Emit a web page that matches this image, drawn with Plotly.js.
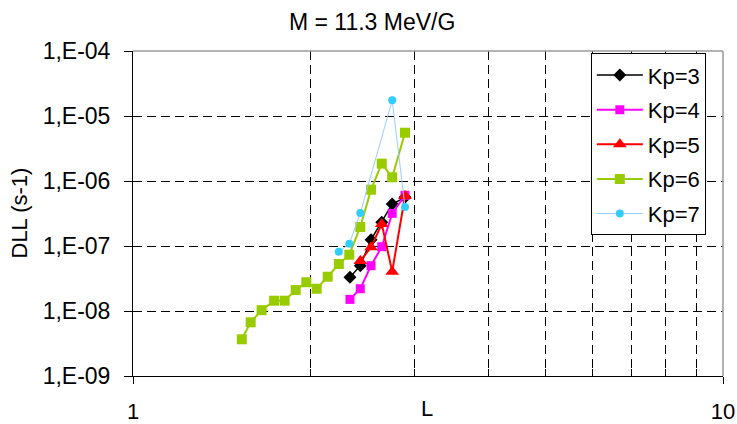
<!DOCTYPE html>
<html><head><meta charset="utf-8">
<script src="https://cdn.plot.ly/plotly-3.0.1.min.js"></script>
<style>html,body{margin:0;padding:0;background:#fff}#chart{width:737px;height:424px}</style>
</head><body><div id="chart"></div>
<script>
// Data (L shell vs DLL in s^-1)
const L_kp3 = [2.332, 2.428, 2.532, 2.640, 2.750, 2.891];
const D_kp3 = [3.30e-8, 4.98e-8, 1.25e-7, 2.32e-7, 4.43e-7, 5.61e-7];

const L_kp4 = [2.332, 2.428, 2.532, 2.640, 2.750, 2.891];
const D_kp4 = [1.51e-8, 2.20e-8, 4.98e-8, 9.75e-8, 3.18e-7, 6.03e-7];

const L_kp5 = [2.428, 2.532, 2.640, 2.750, 2.891];
const D_kp5 = [5.88e-8, 9.55e-8, 2.18e-7, 4.03e-8, 5.88e-7];

const L_kp6 = [1.529, 1.583, 1.652, 1.734, 1.807, 1.887, 1.967, 2.048, 2.138, 2.233, 2.326, 2.428, 2.532, 2.640, 2.750, 2.891];
const D_kp6 = [3.67e-9, 6.70e-9, 1.03e-8, 1.44e-8, 1.44e-8, 2.10e-8, 2.77e-8, 2.20e-8, 3.37e-8, 5.29e-8, 7.34e-8, 1.96e-7, 7.35e-7, 1.85e-6, 1.14e-6, 5.53e-6];

const L_kp7 = [2.233, 2.326, 2.428, 2.750, 2.891];
const D_kp7 = [8.17e-8, 1.08e-7, 3.22e-7, 1.74e-5, 3.98e-7];

const seriesNames = ['Kp=3', 'Kp=4', 'Kp=5', 'Kp=6', 'Kp=7'];
const yTickVals = [1e-9, 1e-8, 1e-7, 1e-6, 1e-5, 1e-4];
const yTickText = ['1,E-09', '1,E-08', '1,E-07', '1,E-06', '1,E-05', '1,E-04'];
const xTickVals = [1, 10];
const xTickText = ['1', '10'];
const xMinorVals = [2, 3, 4, 5, 6, 7, 8, 9];

const FONT = 'Liberation Sans, Arial, sans-serif';

function mk(x, y, name, lineColor, lineWidth, symbol, size, markerColor) {
  return {
    x: x, y: y, name: name, type: 'scatter', mode: 'lines+markers',
    legendgroup: name,
    line: {color: lineColor, width: lineWidth},
    marker: {symbol: symbol, size: size, color: markerColor || lineColor, line: {width: 0}}
  };
}

const traces = [
  mk(L_kp3, D_kp3, seriesNames[0], '#000000', 1.5, 'diamond', 10),
  mk(L_kp4, D_kp4, seriesNames[1], '#FF00FF', 2, 'square', 9),
  mk(L_kp5, D_kp5, seriesNames[2], '#FF0000', 2, 'triangle-up', 12),
  mk(L_kp6, D_kp6, seriesNames[3], '#99CC00', 2, 'square', 10),
  mk(L_kp7, D_kp7, seriesNames[4], '#99CCFF', 1, 'circle', 8, '#33CCFF')
];

const layout = {
  width: 737, height: 424,
  margin: {l: 133, r: 14, t: 51, b: 48, pad: 0},
  paper_bgcolor: '#ffffff', plot_bgcolor: '#ffffff',
  font: {family: FONT, size: 22, color: '#000'},
  title: {text: 'M = 11.3 MeV/G', font: {family: FONT, size: 23, color: '#000'},
          x: 0.505, xref: 'container', xanchor: 'center', y: 0.948, yref: 'container', yanchor: 'middle'},
  showlegend: true,
  legend: {x: 0.776, xanchor: 'left', y: 0.993, yanchor: 'top', bgcolor: '#fff',
           bordercolor: '#000', borderwidth: 1, font: {family: FONT, size: 22, color: '#000'},
           tracegroupgap: 3, traceorder: 'grouped', itemwidth: 46},
  xaxis: {
    type: 'log', range: [0, 1], showline: true, linecolor: '#000', linewidth: 1,
    tickmode: 'array', tickvals: xTickVals, ticktext: xTickText,
    ticks: 'outside', ticklen: 7, tickcolor: '#000', tickwidth: 1,
    showgrid: false, zeroline: false, ticklabelstandoff: 9,
    tickfont: {family: FONT, size: 22, color: '#000'},
    minor: {tickmode: 'array', tickvals: xMinorVals, ticks: 'inside', ticklen: 7, tickcolor: '#000',
            showgrid: true, gridcolor: '#000', gridwidth: 1, griddash: '9px,5px'},
    fixedrange: true
  },
  yaxis: {
    type: 'log', range: [-9, -4], showline: true, linecolor: '#000', linewidth: 1,
    tickmode: 'array', tickvals: yTickVals, ticktext: yTickText,
    ticks: 'outside', ticklen: 8, tickcolor: '#000', tickwidth: 1,
    showgrid: true, gridcolor: '#000', gridwidth: 1, griddash: '9px,5px',
    zeroline: false, ticklabelstandoff: 9,
    tickfont: {family: FONT, size: 23, color: '#000'},
    fixedrange: true
  },
  shapes: [
    {type: 'line', xref: 'paper', yref: 'paper', x0: 0, x1: 1, y0: 1, y1: 1, line: {color: '#9a9a9a', width: 1.5}},
    {type: 'line', xref: 'paper', yref: 'paper', x0: 1, x1: 1, y0: 0, y1: 1, line: {color: '#9a9a9a', width: 1.5}}
  ],
  annotations: [
    {text: 'L', xref: 'paper', yref: 'paper', x: (427 - 133) / 590, y: -(408 - 376) / 325,
     xanchor: 'center', yanchor: 'middle', showarrow: false, font: {family: FONT, size: 22, color: '#000'}},
    {text: 'DLL (s-1)', xref: 'paper', yref: 'paper', x: -(133 - 19) / 590, y: 0.5, textangle: -90,
     xanchor: 'center', yanchor: 'middle', showarrow: false, font: {family: FONT, size: 22, color: '#000'}}
  ]
};

Plotly.newPlot('chart', traces, layout, {displayModeBar: false, staticPlot: true});
</script>
</body></html>
